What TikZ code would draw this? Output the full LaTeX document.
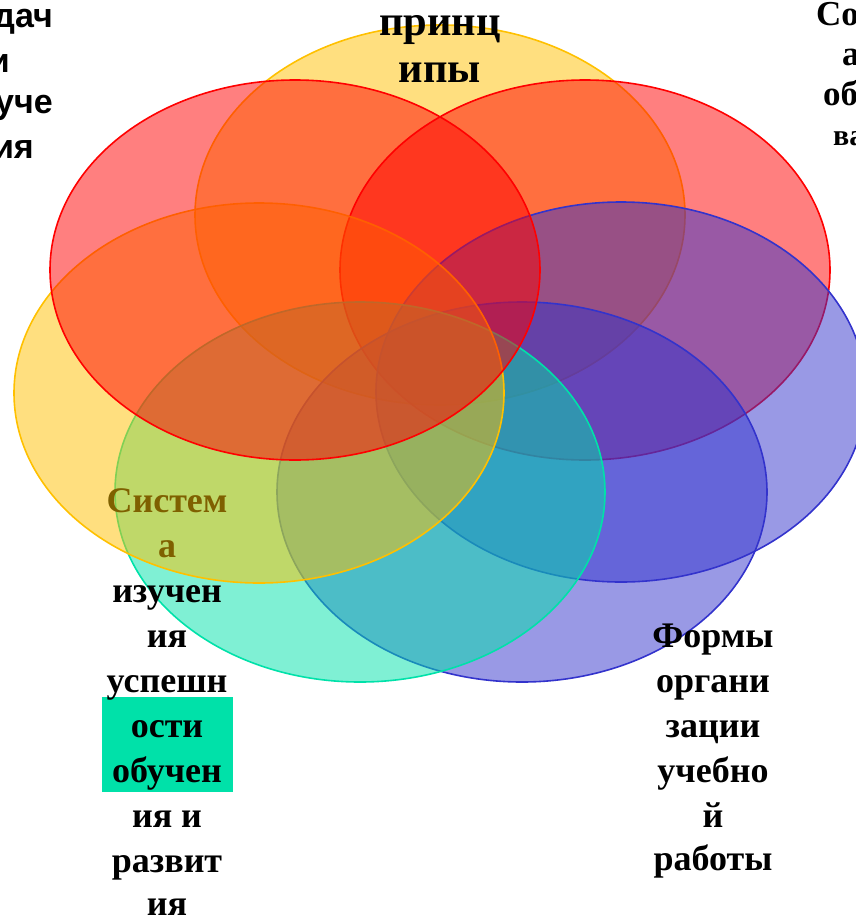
\documentclass[tikz,border=0pt]{standalone}
\usepackage{fontspec}
\setmainfont{Liberation Serif}
\newfontfamily\sansfam{Liberation Sans}
\definecolor{vyellow}{HTML}{FFC000}
\definecolor{vred}{HTML}{FF0000}
\definecolor{vblue}{HTML}{3333CC}
\definecolor{vcyan}{HTML}{00E1A9}
\definecolor{olivetxt}{HTML}{7F6000}
\begin{document}
\begin{tikzpicture}[x=1pt,y=-1pt,
  venn/.style={line width=1.6pt, fill opacity=0.5, draw opacity=1},
  bigtxt/.style={font=\bfseries\fontsize{42.5}{47}\selectfont, anchor=base, inner sep=0pt},
  txt/.style={font=\bfseries\fontsize{36}{45}\selectfont, anchor=base, inner sep=0pt},
  sanstxt/.style={font=\sansfam\bfseries\fontsize{34}{44}\selectfont, anchor=base east, inner sep=0pt},
  cuttxt/.style={font=\bfseries\fontsize{35}{45}\selectfont, anchor=base west, inner sep=0pt}]
\useasboundingbox (0,0) rectangle (856,916);
\clip (0,0) rectangle (856,916);
% ellipses, bottom to top
\draw[venn, draw=vyellow, fill=vyellow] (440,215) ellipse [x radius=245, y radius=190];
\draw[venn, draw=vred, fill=vred] (585,270) ellipse [x radius=245, y radius=190];
\draw[venn, draw=vblue, fill=vblue] (621,392) ellipse [x radius=245, y radius=190];
\draw[venn, draw=vblue, fill=vblue] (522,492) ellipse [x radius=245, y radius=190];
\draw[venn, draw=vcyan, fill=vcyan] (360,492) ellipse [x radius=245, y radius=190];
\draw[venn, draw=vyellow, fill=vyellow] (259,393) ellipse [x radius=245, y radius=190];
\draw[venn, draw=vred, fill=vred] (295,270) ellipse [x radius=245, y radius=190];
% top-left clipped text
\node[sanstxt] (tl1) at (53,27) {дач};
\node[sanstxt] (tl2) at (10,72) {и};
\node[sanstxt] (tl3) at (53,113) {уче};
\node[sanstxt] (tl4) at (34,158) {ия};
% top centre
\node[bigtxt] (tc1) at (440,35) {принц};
\node[bigtxt] (tc2) at (440,82) {ипы};
% top-right clipped text
\node[cuttxt] (tr1) at (816,25) {Со};
\node[cuttxt] (tr2) at (842,65) {а};
\node[cuttxt] (tr3) at (823,105) {об};
\node[cuttxt, font=\bfseries\fontsize{30}{40}\selectfont] (tr4) at (833,145) {ва};
% bottom-left text
\fill[vcyan] (102,697) rectangle (233,792);
\node[txt, text=olivetxt] (bl1) at (167,512) {Систем};
\node[txt, text=olivetxt] (bl2) at (167,557) {а};
\node[txt] (bl3) at (167,602) {изучен};
\node[txt] (bl4) at (167,647) {ия};
\node[txt] (bl5) at (167,692) {успешн};
\node[txt] (bl6) at (167,737) {ости};
\node[txt] (bl7) at (167,782) {обучен};
\node[txt] (bl8) at (167,827) {ия и};
\node[txt] (bl9) at (167,872) {развит};
\node[txt] (bl10) at (167,915) {ия};
% bottom-right text
\node[txt] (br1) at (713,647) {Формы};
\node[txt] (br2) at (713,692) {органи};
\node[txt] (br3) at (713,737) {зации};
\node[txt] (br4) at (713,782) {учебно};
\node[txt] (br5) at (713,827) {й};
\node[txt] (br6) at (713,870) {работы};
\end{tikzpicture}
\end{document}
